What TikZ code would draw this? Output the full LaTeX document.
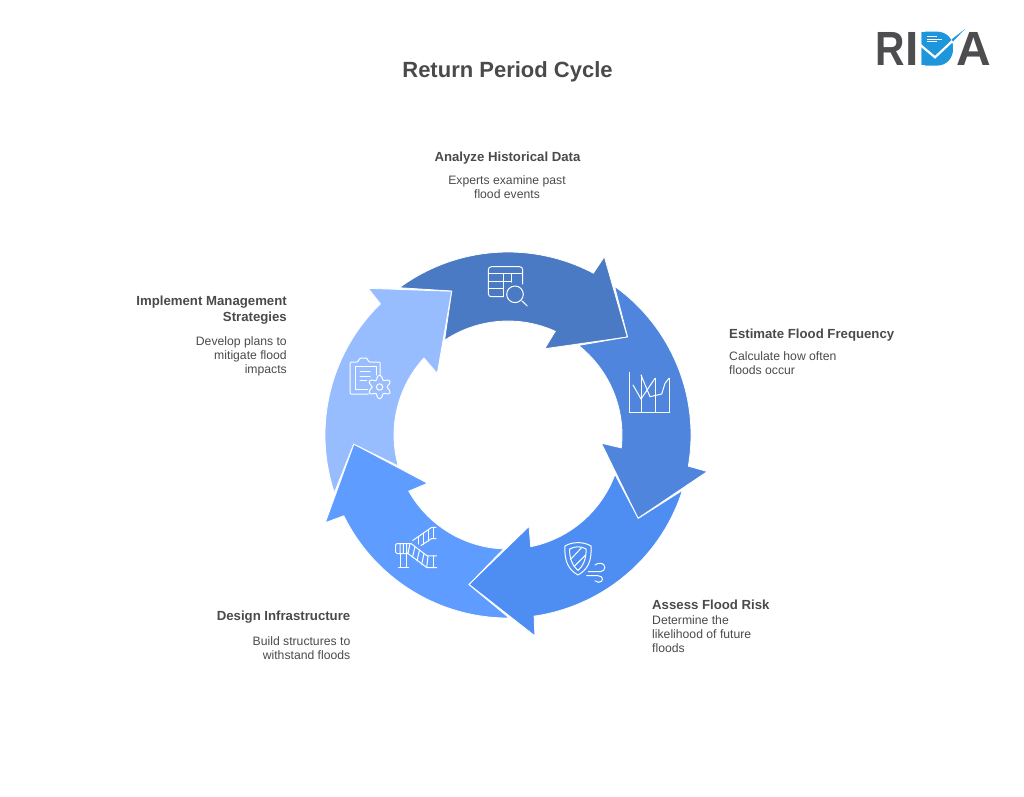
\documentclass[tikz,border=0pt]{standalone}
\usepackage{fontspec}
\setmainfont{Liberation Sans}
\definecolor{ringa}{HTML}{4A7AC4}
\definecolor{ringb}{HTML}{4F85DD}
\definecolor{ringc}{HTML}{4E8DF2}
\definecolor{ringd}{HTML}{5E9DFF}
\definecolor{ringe}{HTML}{98BDFF}
\definecolor{inktext}{HTML}{4A4A4A}
\definecolor{logogray}{HTML}{4D4D4F}
\definecolor{logoblue}{HTML}{1E96DC}
\tikzset{
  headtext/.style={text=inktext,inner sep=0pt,font=\fontsize{13.2}{16}\selectfont\bfseries},
  bodytext/.style={text=inktext,inner sep=0pt,font=\fontsize{12.2}{14}\selectfont},
  icon/.style={draw=white,line width=1pt,line join=round,line cap=round},
  logoletter/.style={inner sep=0pt,font=\fontsize{48}{48}\selectfont\bfseries}
}
\begin{document}
\begin{tikzpicture}[x=1pt,y=-1pt]
  \useasboundingbox (0,0) rectangle (1024,796);

  % the five arrows of the ring, one shape turned by 72 degrees
  \foreach \ang/\col in {0/ringa,-72/ringb,-144/ringc,-216/ringd,-288/ringe}{
    \begin{scope}[shift={(508,435)},y=1pt,rotate=\ang]
      \fill[\col,draw=white,line width=0.8pt,line join=miter]
        (126.4:183) arc[start angle=126.4,end angle=62.2,radius=183]
        -- (96.3,178.3) -- (119.3,98) -- (36.7,86.3) -- (65.5:114)
        arc[start angle=65.5,end angle=123.8,radius=114]
        -- (-56.3,144) -- cycle;
    \end{scope}
  }

  % table and magnifier
  \draw[icon,rounded corners=3pt] (522.7,284) -- (522.7,266.7) -- (488.3,266.7) -- (488.3,296.7) -- (503.3,296.7);
  \draw[icon] (488.3,273.3) -- (522.7,273.3);
  \draw[icon] (488.3,281.7) -- (511.7,281.7);
  \draw[icon] (488.3,288.3) -- (503.3,288.3);
  \draw[icon] (503.3,273.3) -- (503.3,296.7);
  \draw[icon] (511.7,273.3) -- (511.7,282);
  \draw[icon] (515,294.3) circle (8.3);
  \draw[icon] (521.7,300.7) -- (527.3,306);

  % chart
  \draw[icon] (629,372.3) -- (629,412.3) -- (669,412.3) -- (669,378.3);
  \draw[icon] (641,375) -- (641,412.3);
  \draw[icon] (655,378.3) -- (655,412.3);
  \draw[icon] (633,385) -- (641,399) -- (655,378.3);
  \draw[icon] (641,375) -- (650,396.7) -- (661.7,394) -- (665,383.3) -- (669,378.3);

  % shield and wind
  \draw[icon] (565,546) .. controls (572,541.5) and (584,541.5) .. (591,546)
    .. controls (592,562) and (587,570) .. (578,575)
    .. controls (569,570) and (564,562) .. (565,546);
  \draw[icon] (569.7,549) .. controls (575,546) and (581,546) .. (586,549)
    .. controls (586.5,559) and (583,566) .. (578,570.5)
    .. controls (573,566) and (569.2,559) .. (569.7,549);
  \draw[icon] (570.5,559.5) -- (581.3,548);
  \draw[icon] (574,566.7) -- (585.5,555);
  \draw[icon] (588.3,571.7) -- (600,571.7) .. controls (606,571.7) and (607,563.5) .. (600,563.3) .. controls (598,563.3) and (596,564) .. (595,565);
  \draw[icon] (586.7,575.7) -- (598,575.7) .. controls (604,575.7) and (604,582.3) .. (598.3,582.3) .. controls (597,582.3) and (596,581.7) .. (595,580.7);

  % stairs
  \draw[icon] (399,543.5) -- (411,543.5) -- (427,555.8) -- (436.7,555.8);
  \draw[icon] (399,553.5) -- (408,553.5) -- (426.7,567.5) -- (436.7,567.5);
  \draw[icon,rounded corners=1.5pt] (399,543.5) -- (395.5,543.5) -- (395.5,553.5) -- (399,553.5);
  \draw[icon] (400,543.5) -- (400,553.5) (403.3,543.5) -- (403.3,553.5) (406.5,543.5) -- (406.5,553.5) (410,543.5) -- (408,553.5);
  \draw[icon] (415,546.6) -- (412.5,557) (419.5,550) -- (417,560.8) (424,553.4) -- (421.7,564.5) (428,555.8) -- (426.7,567.5);
  \draw[icon] (433.3,555.8) -- (433.3,567.5);
  \draw[icon] (400.7,553.5) -- (400.7,567.5) (406.5,553.5) -- (406.5,567.5);
  \draw[icon] (398.5,567.5) -- (408.5,567.5);
  \draw[icon] (412.7,540.5) -- (431.7,527.3) -- (436,527.3);
  \draw[icon] (421,545.5) -- (431.7,538.5) -- (436,538.5);
  \draw[icon] (433,527.3) -- (433,538.5) (428,530) -- (428,541) (423,533.5) -- (423,544.4) (418,537) -- (418,544);

  % clipboard and gear
  \draw[icon,rounded corners=1pt] (380,375.3) -- (380,362) -- (369,362) -- (366.7,358) -- (360,358) -- (357.7,362) -- (350,362) -- (350,394) -- (368.3,394);
  \draw[icon] (376.7,375) -- (376.7,366) -- (355.7,366) -- (355.7,389.3) -- (367.7,389.3);
  \draw[icon] (360,371.3) -- (370,371.3) (360,376) -- (370,376) (360,380.3) -- (366.7,380.3);
  \draw[icon] plot[domain=0:360,samples=73,smooth] ({379.6+(9.6-2.1*cos(6*\x))*cos(\x)},{387+(9.6-2.1*cos(6*\x))*sin(\x)});
  \draw[icon] (379.6,387) circle (3.2);

  % title and labels
  \node[inktext,inner sep=0pt,font=\fontsize{22}{26}\selectfont\bfseries] (title) at (507.5,71.5) {Return Period Cycle};

  \node[headtext] (analyzehead) at (507.5,158.5) {Analyze Historical Data};
  \node[bodytext,align=center] (analyzebody) at (507,187.5) {Experts examine past\\flood events};

  \node[headtext,anchor=west] (estimatehead) at (729,335) {Estimate Flood Frequency};
  \node[bodytext,align=left,anchor=west] (estimatebody) at (729,363.5) {Calculate how often\\floods occur};

  \node[headtext,anchor=west] (assesshead) at (652,604.5) {Assess Flood Risk};
  \node[bodytext,align=left,anchor=west] (assessbody) at (652,634) {Determine the\\likelihood of future\\floods};

  \node[headtext,anchor=east] (designhead) at (350.5,617) {Design Infrastructure};
  \node[bodytext,align=right,anchor=east] (designbody) at (350.5,648) {Build structures to\\withstand floods};

  \node[headtext,align=right,anchor=east] (implementhead) at (287,310) {Implement Management\\Strategies};
  \node[bodytext,align=right,anchor=east] (implementbody) at (287,356) {Develop plans to\\mitigate flood\\impacts};

  % logo
  \node[logoletter,text=logogray,anchor=base west] (logor) at (875.3,65.7) {\scalebox{.85}[1]{R}};
  \node[logoletter,text=logogray,anchor=base west] (logoi) at (905.3,65.7) {I};
  \fill[logoblue] (925,31.5) -- (936,31.5) .. controls (948,31.5) and (953,40) .. (953,48.5)
    .. controls (953,57) and (948,65.7) .. (936,65.7) -- (925,65.7) -- cycle;
  \node[logoletter,text=logoblue,anchor=base west] (logod) at (918,65.7) {\scalebox{1.07}[1]{D}};
  \node[logoletter,text=logogray,anchor=base west] (logoa) at (956.7,65.7) {A};
  \draw[white,line width=2.2pt] (920,44.7) -- (935,57.3) -- (955,38.5);
  \fill[logoblue] (951.5,39.5) -- (965,29) -- (953,41.5) -- cycle;
  \draw[white,line width=1pt] (926.7,36.7) -- (937,36.7) (926.7,39.2) -- (941.7,39.2) (926.7,41.7) -- (937,41.7);
\end{tikzpicture}
\end{document}
